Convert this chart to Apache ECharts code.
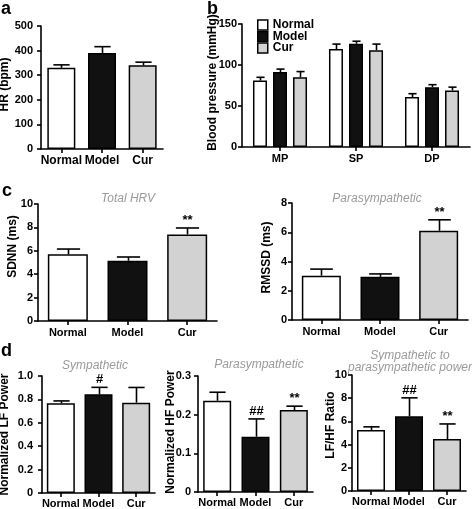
<!DOCTYPE html>
<html><head><meta charset="utf-8">
<script src="https://cdn.jsdelivr.net/npm/echarts@6/dist/echarts.min.js"></script>
<style>html,body{margin:0;padding:0;background:#fff}#c{width:472px;height:509px}</style>
</head><body><div id="c"></div>
<script>
// ---------- data ----------
const groups = ['Normal', 'Model', 'Cur'];
const bpCategories = ['MP', 'SP', 'DP'];

// a: heart rate
const hrTicks = [0, 100, 200, 300, 400, 500];
const hrMean = [330, 390, 340];
const hrErr = [12, 26, 13];

// b: blood pressure
const bpTicks = [0, 50, 100, 150];
const bpNormalMean = [81, 119.5, 61];
const bpNormalErr = [4, 6, 4];
const bpModelMean = [91.5, 126, 73];
const bpModelErr = [3.5, 3, 3];
const bpCurMean = [85, 118, 69];
const bpCurErr = [7, 7.5, 4];

// c: HRV
const sdnnTicks = [0, 2, 4, 6, 8, 10];
const sdnnMean = [5.7, 5.15, 7.4];
const sdnnErr = [0.45, 0.32, 0.55];
const sdnnSig = ['', '', '**'];
const rmssdTicks = [0, 2, 4, 6, 8];
const rmssdMean = [3.03, 2.95, 6.1];
const rmssdErr = [0.45, 0.2, 0.75];
const rmssdSig = ['', '', '**'];

// d: spectral
const lfTicks = [0, 0.2, 0.4, 0.6, 0.8, 1.0];
const lfMean = [0.767, 0.843, 0.772];
const lfErr = [0.02, 0.06, 0.13];
const lfSig = ['', '#', ''];
const hfTicks = [0, 0.1, 0.2, 0.3];
const hfMean = [0.236, 0.143, 0.212];
const hfErr = [0.022, 0.046, 0.01];
const hfSig = ['', '##', '**'];
const ratioTicks = [0, 2, 4, 6, 8, 10];
const ratioMean = [5.25, 6.45, 4.48];
const ratioErr = [0.28, 1.58, 1.3];
const ratioSig = ['', '##', '**'];

// ---------- styling ----------
const fills = ['#ffffff', '#111111', '#d2d2d2'];
const FONT = '"Liberation Sans", Arial, Helvetica, sans-serif';
const AXL = {color: '#000', width: 1.6};

function errRender(barW, offset, sig) {
  return function (params, api) {
    const x = api.value(0), lo = api.value(1), hi = api.value(2);
    const p0 = api.coord([x, lo]);
    const p1 = api.coord([x, hi]);
    const cx = Math.round(p0[0] + offset) + 0.5;
    const cap = barW * 0.29;
    const children = [
      {type: 'line', shape: {x1: cx, y1: p0[1], x2: cx, y2: p1[1]}, style: {stroke: '#000', lineWidth: 1.6}},
      {type: 'line', shape: {x1: cx - cap, y1: p1[1], x2: cx + cap, y2: p1[1]}, style: {stroke: '#000', lineWidth: 1.6}}
    ];
    const s = sig ? sig[params.dataIndex] : '';
    if (s) {
      children.push({type: 'text', style: {text: s, x: cx, y: p1[1] - 1, align: 'center', verticalAlign: 'bottom',
        fill: '#000', font: 'bold 13px ' + FONT}});
    }
    return {type: 'group', children: children};
  };
}

function xAxisCfg(i, cats, margin, fontSize) {
  return {
    type: 'category', gridIndex: i, data: cats, boundaryGap: true,
    axisLine: {show: true, lineStyle: AXL},
    axisTick: {show: true, alignWithLabel: true, length: 4, lineStyle: AXL},
    axisLabel: {interval: 0, margin: margin, color: '#000', fontWeight: 'bold', fontSize: fontSize, fontFamily: FONT},
    splitLine: {show: false}
  };
}

function yAxisCfg(i, ticks, name, nameGap, nameShift, margin, fmt) {
  const cfg = {
    type: 'value', gridIndex: i,
    min: ticks[0], max: ticks[ticks.length - 1], interval: ticks[1] - ticks[0],
    axisLine: {show: true, lineStyle: AXL},
    axisTick: {show: true, length: 4, lineStyle: AXL},
    splitLine: {show: false},
    axisLabel: {margin: margin, color: '#000', fontWeight: 'bold', fontSize: 11, fontFamily: FONT},
    name: name, nameLocation: 'middle', nameGap: nameGap, nameMoveOverlap: false,
    nameTextStyle: {color: '#000', fontWeight: 'bold', fontSize: 12, fontFamily: FONT,
      padding: [0, 0, 0, nameShift * 2]}
  };
  if (fmt) cfg.axisLabel.formatter = function (v) { return v === 0 ? '0' : v.toFixed(1); };
  return cfg;
}

const panels = [
  {ticks: hrTicks, name: 'HR (bpm)', mean: hrMean, err: hrErr, sig: null,
   grid: {left: 41, right: 309, top: 26, bottom: 360}, barW: 28, nameGap: 30, nameShift: 3, yMargin: 8, xMargin: 6, xFont: 12},
  {ticks: sdnnTicks, name: 'SDNN (ms)', mean: sdnnMean, err: sdnnErr, sig: sdnnSig,
   grid: {left: 38, right: 255, top: 204, bottom: 188}, barW: 40, nameGap: 19, nameShift: 16, yMargin: 5, xMargin: 6, xFont: 11},
  {ticks: rmssdTicks, name: 'RMSSD (ms)', mean: rmssdMean, err: rmssdErr, sig: rmssdSig,
   grid: {left: 292, right: 4, top: 203, bottom: 189}, barW: 39, nameGap: 19, nameShift: 4, yMargin: 5, xMargin: 6, xFont: 11},
  {ticks: lfTicks, name: 'Normalized LF Power', mean: lfMean, err: lfErr, sig: lfSig, fmt: true,
   grid: {left: 42, right: 317, top: 376, bottom: 16}, barW: 28, nameGap: 31, nameShift: 0, yMargin: 9, xMargin: 5, xFont: 11},
  {ticks: hfTicks, name: 'Normalized HF Power', mean: hfMean, err: hfErr, sig: hfSig, fmt: true,
   grid: {left: 198, right: 159, top: 376, bottom: 17}, barW: 28, nameGap: 21, nameShift: 2, yMargin: 7, xMargin: 5, xFont: 11},
  {ticks: ratioTicks, name: 'LF/HF Ratio', mean: ratioMean, err: ratioErr, sig: ratioSig,
   grid: {left: 352, right: 6, top: 375, bottom: 18}, barW: 28, nameGap: 15, nameShift: 8, yMargin: 5, xMargin: 5, xFont: 11}
];

const titleStyle = {fontStyle: 'italic', fontWeight: 'normal', color: '#9a9a9a', fontSize: 12, fontFamily: FONT};
const letterStyle = {fontWeight: 'bold', color: '#000', fontSize: 18, fontFamily: FONT};

const option = {
  animation: false,
  backgroundColor: '#ffffff',
  textStyle: {fontFamily: FONT},
  title: [
    {text: 'a', left: 1, top: 0, padding: 0, textStyle: letterStyle},
    {text: 'b', left: 207, top: 0, padding: 0, textStyle: letterStyle},
    {text: 'c', left: 2, top: 182, padding: 0, textStyle: letterStyle},
    {text: 'd', left: 1, top: 342, padding: 0, textStyle: letterStyle},
    {text: 'Total HRV', left: 128, top: 193, padding: 0, textAlign: 'center', textStyle: titleStyle},
    {text: 'Parasympathetic', left: 377, top: 193, padding: 0, textAlign: 'center', textStyle: titleStyle},
    {text: 'Sympathetic', left: 95, top: 360, padding: 0, textAlign: 'center', textStyle: titleStyle},
    {text: 'Parasympathetic', left: 259, top: 359, padding: 0, textAlign: 'center', textStyle: titleStyle},
    {text: 'Sympathetic to\nparasympathetic power', left: 410, top: 350, padding: 0, textAlign: 'center',
     textStyle: Object.assign({}, titleStyle, {lineHeight: 11.5})}
  ],
  legend: {
    data: groups, orient: 'vertical', left: 257, top: 19, padding: 0,
    itemWidth: 10, itemHeight: 10, itemGap: -0.5, icon: 'rect',
    itemStyle: {borderColor: '#000', borderWidth: 1.5},
    textStyle: {color: '#000', fontWeight: 'bold', fontSize: 12, fontFamily: FONT, lineHeight: 11}
  },
  grid: [], xAxis: [], yAxis: [], series: []
};

panels.forEach(function (p, i) {
  option.grid.push(Object.assign({outerBoundsMode: 'none', containLabel: false}, p.grid));
  option.xAxis.push(xAxisCfg(i, groups, p.xMargin, p.xFont));
  option.yAxis.push(yAxisCfg(i, p.ticks, p.name, p.nameGap, p.nameShift, p.yMargin, p.fmt));
  option.series.push({
    type: 'bar', name: p.name, xAxisIndex: i, yAxisIndex: i, barWidth: p.barW, z: 2,
    itemStyle: {borderColor: '#000', borderWidth: 1.5},
    data: p.mean.map(function (v, j) { return {value: v, itemStyle: {color: fills[j]}}; })
  });
  option.series.push({
    type: 'custom', xAxisIndex: i, yAxisIndex: i, z: 3, silent: true,
    encode: {x: 0, y: [1, 2]},
    data: p.mean.map(function (v, j) { return [j, v, v + p.err[j]]; }),
    renderItem: errRender(p.barW, 0, p.sig)
  });
});

// panel b (grouped)
const bi = panels.length;
option.grid.push({left: 242, right: 2, top: 24, bottom: 362, outerBoundsMode: 'none', containLabel: false});
option.xAxis.push(xAxisCfg(bi, bpCategories, 6, 11));
option.yAxis.push(yAxisCfg(bi, bpTicks, 'Blood pressure (mmHg)', 23, 3, 5, false));
const bpSeries = [[bpNormalMean, bpNormalErr], [bpModelMean, bpModelErr], [bpCurMean, bpCurErr]];
bpSeries.forEach(function (s, j) {
  option.series.push({
    type: 'bar', name: groups[j], xAxisIndex: bi, yAxisIndex: bi, barWidth: 14, barGap: '43%', z: 2,
    itemStyle: {color: fills[j], borderColor: '#000', borderWidth: 1.5},
    data: s[0]
  });
});
bpSeries.forEach(function (s, j) {
  option.series.push({
    type: 'custom', xAxisIndex: bi, yAxisIndex: bi, z: 3, silent: true,
    encode: {x: 0, y: [1, 2]},
    data: s[0].map(function (v, k) { return [k, v, v + s[1][k]]; }),
    renderItem: errRender(14, (j - 1) * 20, null)
  });
});

const chart = echarts.init(document.getElementById('c'), null, {renderer: 'canvas'});
chart.setOption(option);
</script>
</body></html>
